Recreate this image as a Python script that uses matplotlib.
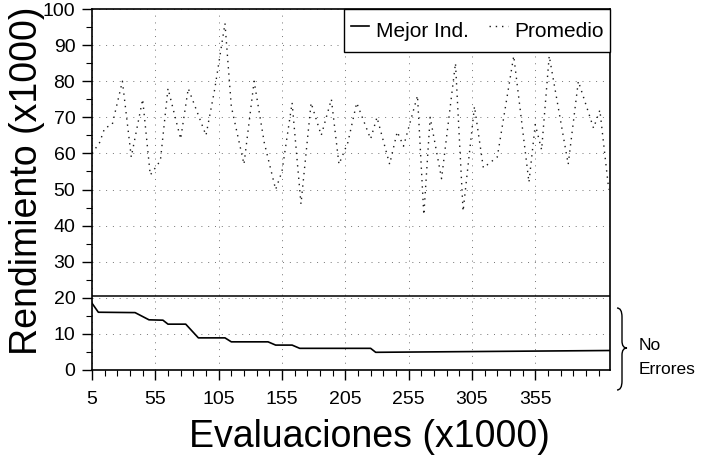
import numpy as np
import matplotlib
matplotlib.use("Agg")
from matplotlib import pyplot as plt
from matplotlib.path import Path
from matplotlib.patches import PathPatch
from matplotlib.ticker import FixedLocator, MultipleLocator

plt.rcParams['font.family'] = ['Liberation Sans', 'DejaVu Sans']

# Mejor individuo (x1000 evaluaciones, rendimiento x1000)
mejor_x = [5, 10, 39, 50, 61, 65, 79, 89, 110, 115, 144, 150, 163, 169, 225, 229, 414]
mejor_y = [18.5, 16.0, 15.9, 13.9, 13.8, 12.7, 12.7, 8.9, 8.9, 7.8, 7.8, 6.9, 6.9, 6.0, 6.0, 4.9, 5.4]

# Promedio de la poblacion
prom_x = [5, 11, 15, 21, 29, 36, 45, 51, 59, 65, 75, 81, 95, 102, 110, 115, 125,
          133, 141, 150, 155, 163, 170, 178, 186, 194, 200, 207, 214, 225, 230,
          240, 246, 251, 262, 267, 272, 281, 292, 298, 307, 314, 325, 338, 350,
          355, 360, 366, 381, 389, 401, 406, 413]
prom_y = [60, 63, 67, 68, 80, 59, 75, 54, 58, 78, 64, 78, 65, 78, 96, 73, 57,
          80, 63, 50, 55, 74, 46, 74, 65, 75, 57, 63, 74, 64, 70,
          57, 66, 62, 76, 43, 70, 53, 85, 44, 73, 56, 59, 87, 52,
          68, 61, 87, 57, 80, 67, 72, 50]

# linea de "no errores"
limite_y = 20.5

W, H = 708, 457
fig = plt.figure(figsize=(W / 100, H / 100), dpi=100)
ax = fig.add_axes([92 / W, 1 - 370 / H, 518 / W, 361 / H])

ax.plot(mejor_x, mejor_y, color='black', lw=1.2, label='Mejor Ind.')
ax.plot(prom_x, prom_y, color='0.1', lw=1.0, linestyle=(0, (1, 3.5)), label='Promedio')
ax.axhline(limite_y, color='black', lw=1.1)

ax.set_xlim(5, 414)
ax.set_ylim(0, 100)
ax.xaxis.set_major_locator(FixedLocator(np.arange(5, 400, 50)))
ax.xaxis.set_minor_locator(FixedLocator(np.arange(5, 414, 10)))
ax.yaxis.set_major_locator(MultipleLocator(10))
ax.yaxis.set_minor_locator(MultipleLocator(5))
ax.tick_params(which='major', direction='out', length=7, width=1, labelsize=14, pad=5)
ax.tick_params(which='minor', direction='out', length=4, width=0.8)
ax.tick_params(axis='x', pad=8)

ax.grid(True, which='major', color='0.45', lw=0.7, linestyle=(0, (1, 6)))
for s in ax.spines.values():
    s.set_linewidth(1.2)

ax.set_ylabel('Rendimiento (x1000)', fontsize=27)
ax.yaxis.set_label_coords(-0.09, 0.523)
ax.set_xlabel('Evaluaciones (x1000)', fontsize=27)
ax.xaxis.set_label_coords(0.535, -0.135)

leg = ax.legend(loc='upper right', ncol=2, fontsize=15, borderaxespad=0,
                borderpad=0.3, handleheight=1.9, handlelength=0.9,
                handletextpad=0.3, columnspacing=1.0, fancybox=False,
                framealpha=1, edgecolor='black')
leg.get_frame().set_linewidth(1.0)


def px(x, y):
    return (x / W, 1 - y / H)


verts = [px(617, 308), px(622, 308), px(622, 317), px(622, 341),
         px(622, 348), px(627, 348), px(622, 348), px(622, 355),
         px(622, 381), px(622, 390), px(617, 390)]
codes = [Path.MOVETO, Path.CURVE3, Path.CURVE3, Path.LINETO,
         Path.CURVE3, Path.CURVE3, Path.CURVE3, Path.CURVE3,
         Path.LINETO, Path.CURVE3, Path.CURVE3]
fig.patches.append(PathPatch(Path(verts, codes), transform=fig.transFigure,
                             fill=False, lw=1.0, color='black'))
fig.text(*px(639, 345), 'No', fontsize=12.5, va='center', ha='left')
fig.text(*px(639, 370), 'Errores', fontsize=12.5, va='center', ha='left')

fig.savefig('out.png', dpi=100)
